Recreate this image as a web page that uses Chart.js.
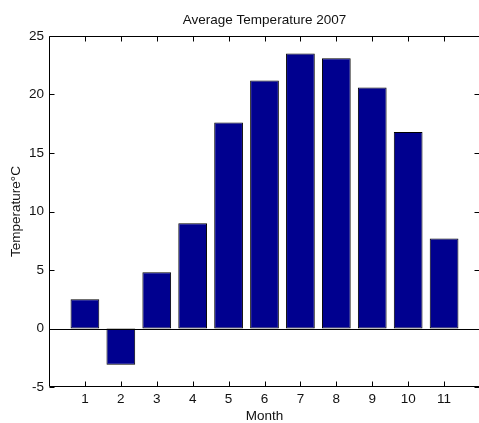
<!DOCTYPE html>
<html>
<head>
<meta charset="utf-8">
<script src="https://cdn.jsdelivr.net/npm/chart.js@4.4.1/dist/chart.umd.min.js"></script>
<style>
  body { margin: 0; background: #fff; }
  #wrap { width: 479px; height: 423px; overflow: hidden; position: relative; }
</style>
</head>
<body>
<div id="wrap"><canvas id="tempChart" width="481" height="423"></canvas></div>
<script>
// monthly averages, 2007
var months = [1, 2, 3, 4, 5, 6, 7, 8, 9, 10, 11];
var temps = [2.5, -3.1, 4.8, 9.0, 17.6, 21.2, 23.5, 23.1, 20.6, 16.8, 7.7];
var yTicks = [-5, 0, 5, 10, 15, 20, 25];

var FONT = '"Liberation Sans", Arial, sans-serif';
var FSIZE = 13.5;

// box, inward ticks, zero baseline and title
var axesBox = {
    id: 'axesBox',
    afterDatasetsDraw: function (chart) {
        var ctx = chart.ctx, a = chart.chartArea;
        var xs = chart.scales.x, ys = chart.scales.y;
        var L = a.left + 0.5, R = a.right - 0.5, T = a.top + 0.5, B = a.bottom - 0.5;
        ctx.save();
        ctx.strokeStyle = '#000';
        ctx.lineWidth = 1;

        var zero = Math.round(ys.getPixelForValue(0)) + 0.5;
        ctx.beginPath();
        ctx.moveTo(L, zero);
        ctx.lineTo(R, zero);
        ctx.stroke();

        ctx.beginPath();
        ctx.rect(L, T, R - L, B - T);
        months.forEach(function (m) {
            var px = Math.round(xs.getPixelForValue(m)) + 0.5;
            ctx.moveTo(px, B); ctx.lineTo(px, B - 5);
            ctx.moveTo(px, T); ctx.lineTo(px, T + 5);
        });
        yTicks.forEach(function (v) {
            var py = Math.round(ys.getPixelForValue(v)) + 0.5;
            ctx.moveTo(L, py); ctx.lineTo(L + 5, py);
            ctx.moveTo(R, py); ctx.lineTo(R - 5, py);
        });
        ctx.stroke();

        ctx.fillStyle = '#111';
        ctx.font = FSIZE + 'px ' + FONT;
        ctx.textAlign = 'center';
        ctx.textBaseline = 'middle';
        ctx.fillText('Average Temperature 2007', (a.left + a.right) / 2, 20);
        ctx.restore();
    }
};

new Chart(document.getElementById('tempChart'), {
    type: 'bar',
    data: {
        datasets: [{
            data: months.map(function (m, i) { return { x: m, y: temps[i] }; }),
            backgroundColor: '#00008f',
            borderColor: '#000',
            borderWidth: 1,
            borderSkipped: false,
            barPercentage: 0.8,
            categoryPercentage: 1.0
        }]
    },
    options: {
        responsive: false,
        animation: false,
        devicePixelRatio: 1,
        layout: { autoPadding: false, padding: { left: 0, top: 36, right: 1, bottom: 0 } },
        plugins: {
            legend: { display: false },
            tooltip: { enabled: false }
        },
        scales: {
            x: {
                type: 'linear',
                min: 0,
                max: 12,
                offset: false,
                grid: { display: false, drawTicks: false, offset: false },
                border: { display: false },
                afterFit: function (scale) {
                    scale.height = 36;
                    scale.paddingLeft = 0;
                    scale.paddingRight = 0;
                },
                ticks: {
                    stepSize: 1,
                    autoSkip: false,
                    maxRotation: 0,
                    padding: 4,
                    color: '#111',
                    font: { family: FONT, size: FSIZE },
                    callback: function (v) { return months.indexOf(v) >= 0 ? String(v) : ''; }
                },
                title: {
                    display: true,
                    text: 'Month',
                    color: '#111',
                    font: { family: FONT, size: FSIZE, lineHeight: 1 },
                    padding: { top: 0, bottom: 0 }
                }
            },
            y: {
                min: -5,
                max: 25,
                grid: { display: false, drawTicks: false },
                border: { display: false },
                afterFit: function (scale) {
                    scale.width = 49;
                    scale.paddingTop = 0;
                    scale.paddingBottom = 0;
                },
                afterBuildTicks: function (scale) {
                    scale.ticks = yTicks.map(function (v) { return { value: v }; });
                },
                ticks: {
                    padding: 5,
                    color: '#111',
                    font: { family: FONT, size: FSIZE }
                },
                title: {
                    display: true,
                    text: 'Temperature\u00B0C',
                    color: '#111',
                    font: { family: FONT, size: FSIZE, lineHeight: 1 },
                    padding: { top: 9.5, bottom: 0 }
                }
            }
        }
    },
    plugins: [axesBox]
});
</script>
</body>
</html>
